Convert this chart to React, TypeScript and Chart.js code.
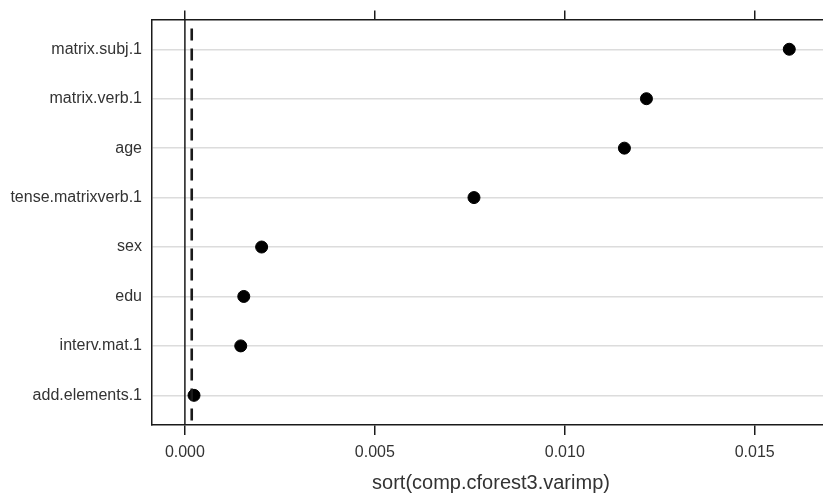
import React, { useEffect, useRef } from "react";
import { Chart, registerables } from "chart.js";

Chart.register(...registerables);

const categories = [
  "matrix.subj.1",
  "matrix.verb.1",
  "age",
  "tense.matrixverb.1",
  "sex",
  "edu",
  "interv.mat.1",
  "add.elements.1",
];
const importance = [0.01591, 0.01215, 0.01157, 0.00761, 0.00202, 0.00155, 0.00147, 0.00024];
const xTicks = [0, 0.005, 0.01, 0.015];
const zeroLine = 0;
const dashedLine = 0.00018;
const xTitle = "sort(comp.cforest3.varimp)";

const FONT = "'Liberation Sans', Arial, Helvetica, sans-serif";

export default function App() {
  const ref = useRef<HTMLCanvasElement | null>(null);

  useEffect(() => {
    document.body.style.margin = "0";
    document.body.style.overflow = "hidden";
    const canvas = ref.current!;
    const refLines = {
      id: "refLines",
      afterDatasetsDraw(chart: any) {
        const { ctx, chartArea, scales } = chart;
        const xs = scales.x;
        ctx.save();
        ctx.strokeStyle = "#1a1a1a";
        ctx.lineWidth = 1.5;
        const x0 = xs.getPixelForValue(zeroLine);
        ctx.beginPath();
        ctx.moveTo(x0, chartArea.top);
        ctx.lineTo(x0, chartArea.bottom);
        ctx.stroke();
        ctx.lineWidth = 2.6;
        ctx.setLineDash([12, 8]);
        const xd = xs.getPixelForValue(dashedLine);
        ctx.beginPath();
        ctx.moveTo(xd, chartArea.top + 9);
        ctx.lineTo(xd, chartArea.bottom);
        ctx.stroke();
        ctx.restore();
      },
    };

    const chart = new Chart(canvas, {
      type: "scatter",
      data: {
        datasets: [
          {
            data: importance.map((v, i) => ({ x: v, y: i + 1 })),
            backgroundColor: "#000",
            borderColor: "#000",
            pointRadius: 6,
            pointHoverRadius: 6,
          },
        ],
      },
      options: {
        responsive: false,
        animation: false,
        layout: { padding: 0 },
        plugins: { legend: { display: false }, tooltip: { enabled: false } },
        scales: {
          x: {
            type: "linear",
            position: "bottom",
            min: -0.000866,
            max: 0.016982,
            afterBuildTicks: (s: any) => {
              s.ticks = xTicks.map((v) => ({ value: v }));
            },
            afterFit: (s: any) => {
              s.height = 70;
            },
            grid: {
              drawOnChartArea: false,
              drawTicks: true,
              tickLength: 10,
              color: "#1a1a1a",
              lineWidth: 1.5,
            },
            border: { display: true, color: "#1a1a1a", width: 1.5 },
            ticks: {
              padding: 8,
              color: "#333",
              font: { family: FONT, size: 16 },
              callback: (v: any) => Number(v).toFixed(3),
              maxRotation: 0,
            },
            title: {
              display: true,
              text: xTitle,
              color: "#333",
              font: { family: FONT, size: 20 },
              padding: 0,
            },
          },
          x2: {
            type: "linear",
            position: "top",
            min: -0.000866,
            max: 0.016982,
            afterBuildTicks: (s: any) => {
              s.ticks = xTicks.map((v) => ({ value: v }));
            },
            afterFit: (s: any) => {
              s.height = 18;
            },
            grid: {
              drawOnChartArea: false,
              drawTicks: true,
              tickLength: 9,
              color: "#1a1a1a",
              lineWidth: 1.5,
            },
            border: { display: true, color: "#1a1a1a", width: 1.5 },
            ticks: { callback: () => "", padding: 0 },
          },
          y: {
            type: "linear",
            min: 0.4,
            max: 8.6,
            reverse: true,
            afterBuildTicks: (s: any) => {
              s.ticks = categories.map((_, i) => ({ value: i + 1 }));
            },
            afterFit: (s: any) => {
              s.width = 152;
            },
            grid: {
              drawTicks: false,
              color: "#dcdcdc",
              lineWidth: 1.5,
            },
            border: { display: true, color: "#1a1a1a", width: 1.5 },
            ticks: {
              padding: 10,
              color: "#333",
              font: { family: FONT, size: 16 },
              callback: (v: any) => categories[Number(v) - 1] ?? "",
            },
          },
        },
      },
      plugins: [refLines],
    } as any);
    return () => chart.destroy();
  }, []);

  return (
    <div style={{ width: 823, height: 495, overflow: "hidden", position: "relative" }}>
      <canvas ref={ref} width={837} height={495} style={{ display: "block" }} />
    </div>
  );
}
